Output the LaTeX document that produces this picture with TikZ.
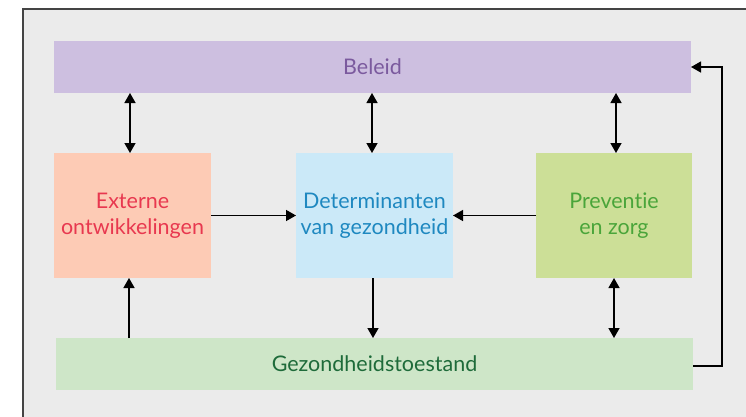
\documentclass[tikz,border=0pt]{standalone}
\usepackage{fontspec}
\setmainfont[Ligatures={NoCommon,NoRare,NoDiscretionary}]{Lato}
\usetikzlibrary{arrows.meta}
\definecolor{bg}{HTML}{EBEBEB}
\definecolor{frame}{HTML}{444444}
\definecolor{belfill}{HTML}{CDBFE0}
\definecolor{beltext}{HTML}{7B5A9E}
\definecolor{extfill}{HTML}{FDCBB5}
\definecolor{exttext}{HTML}{E8384F}
\definecolor{detfill}{HTML}{CBE9F8}
\definecolor{dettext}{HTML}{1E88C0}
\definecolor{prefill}{HTML}{CCDF97}
\definecolor{pretext}{HTML}{4AA53A}
\definecolor{gezfill}{HTML}{CEE6C8}
\definecolor{geztext}{HTML}{1E6B3A}
\begin{document}
\begin{tikzpicture}[x=1pt,y=-1pt,
  blok/.style={inner sep=0pt, outer sep=0pt, align=center, font=\fontsize{21.5}{26}\selectfont},
  pijl/.style={line width=1.4pt, -{Triangle[length=10pt,width=11pt]}},
  dpijl/.style={line width=1.4pt, {Triangle[length=10pt,width=11pt]}-{Triangle[length=10pt,width=11pt]}}]
\useasboundingbox (0,0) rectangle (746,416);
\fill[white] (0,0) rectangle (746,416);
\begin{scope}
\clip (0,0) rectangle (746,416);
\draw[frame, fill=bg, line width=1.5pt] (23,9) rectangle (770,440);
\end{scope}
\node[blok, fill=belfill, text=beltext, minimum width=637pt, minimum height=52pt, anchor=north west] (bel) at (54,41) {Beleid};
\node[blok, fill=extfill, text=exttext, minimum width=157pt, minimum height=125pt, anchor=north west] (ext) at (54,153) {Externe\\ontwikkelingen};
\node[blok, fill=detfill, text=dettext, minimum width=157pt, minimum height=125pt, anchor=north west] (det) at (296,153) {Determinanten\\van gezondheid};
\node[blok, fill=prefill, text=pretext, minimum width=156pt, minimum height=125pt, anchor=north west] (pre) at (536,153) {Preventie\\en zorg};
\node[blok, fill=gezfill, text=geztext, minimum width=637pt, minimum height=52pt, anchor=north west] (gez) at (56,338) {Gezondheidstoestand};
\coordinate (loopA) at (722,366);
\coordinate (loopB) at (722,67);
\draw[dpijl] (bel.south -| 130,0) -- (ext.north -| 130,0);
\draw[dpijl] (bel.south -| 372,0) -- (det.north -| 372,0);
\draw[dpijl] (bel.south -| 616,0) -- (pre.north -| 616,0);
\draw[pijl] (ext.east) -- (det.west |- ext.east);
\draw[pijl] (pre.west) -- (det.east |- pre.west);
\draw[pijl] (det.south -| 373,0) -- (gez.north -| 373,0);
\draw[pijl] (gez.north -| 129,0) -- (ext.south -| 129,0);
\draw[dpijl] (pre.south -| 614,0) -- (gez.north -| 614,0);
\draw[line width=1.4pt, -{Triangle[length=10pt,width=11pt]}] (gez.east |- loopA) -- (loopA) -- (loopB) -- (bel.east |- loopB);
\end{tikzpicture}
\end{document}
